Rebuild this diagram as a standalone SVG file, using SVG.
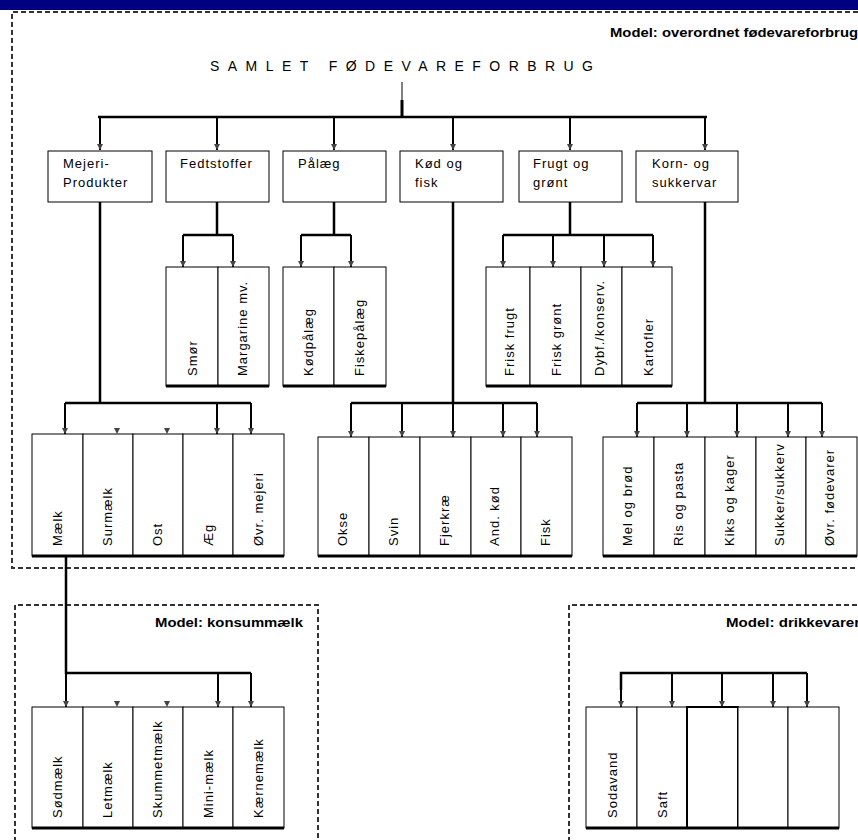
<svg xmlns="http://www.w3.org/2000/svg" xmlns:xlink="http://www.w3.org/1999/xlink" width="858" height="840" viewBox="0 0 858 840">
<defs>
<style>
.bg{fill:#ffffff}
.bar{fill:#000080}
.dash{fill:none;stroke:#333;stroke-width:2;stroke-dasharray:5,3}
.box{fill:#fff;stroke:#000;stroke-width:1}
.base{stroke:#000;stroke-width:3}
.t{font-family:"Liberation Sans",Arial,sans-serif;font-size:13px;fill:#000;letter-spacing:1px}
.r{font-family:"Liberation Sans",Arial,sans-serif;font-size:13px;fill:#000;letter-spacing:1px}
.title{font-family:"Liberation Sans",Arial,sans-serif;font-size:14px;fill:#000}
.model{font-family:"Liberation Sans",Arial,sans-serif;font-size:12px;font-weight:bold;fill:#000}
.c{fill:none;stroke:#000;stroke-width:2.5}
.d{fill:none;stroke:#000;stroke-width:2;marker-end:url(#arr)}
.ah{fill:#444}
</style>
<marker id="arr" markerUnits="userSpaceOnUse" markerWidth="7" markerHeight="7" refX="6" refY="3.5" orient="auto" viewBox="0 0 7 7">
<path d="M0,0.5 L6,3.5 L0,6.5 Z" fill="#444"/>
</marker>
<path id="ah" d="M-3,-6 L3,-6 L0,0 Z" class="ah"/>
</defs>
<rect class="bg" x="0" y="0" width="858" height="840"/>
<rect class="bar" x="0" y="0" width="858" height="10"/>
<path class="dash" d="M858,12 H12 V568 H858"/>
<path class="dash" d="M15,842 V605 H318 V842"/>
<path class="dash" d="M569,842 V605 H860"/>
<text class="model" x="858" y="37" text-anchor="end" textLength="248" lengthAdjust="spacingAndGlyphs">Model: overordnet fødevareforbrug</text>
<text class="model" x="303" y="627" text-anchor="end" textLength="148" lengthAdjust="spacingAndGlyphs">Model: konsummælk</text>
<text class="model" x="726" y="627" textLength="134" lengthAdjust="spacingAndGlyphs">Model: drikkevarer</text>
<g id="root">
<text class="title" x="210" y="71" textLength="383" lengthAdjust="spacing">SAMLET FØDEVAREFORBRUG</text>
</g>
<g id="connectors">
<line x1="402" y1="82" x2="402" y2="100" stroke="#000" stroke-width="1"/>
<line x1="402" y1="100" x2="402" y2="117" stroke="#000" stroke-width="3"/>
<path class="c" d="M98,117 H707"/>
<line class="d" x1="100" y1="117" x2="100" y2="150"/>
<line class="d" x1="217" y1="117" x2="217" y2="150"/>
<line class="d" x1="334" y1="117" x2="334" y2="150"/>
<line class="d" x1="453" y1="117" x2="453" y2="150"/>
<line class="d" x1="570" y1="117" x2="570" y2="150"/>
<line class="d" x1="705" y1="117" x2="705" y2="150"/>
<path class="c" d="M217,202 V235 M183,235 H233"/>
<line class="d" x1="183" y1="235" x2="183" y2="267"/>
<line class="d" x1="233" y1="235" x2="233" y2="267"/>
<path class="c" d="M334,202 V235 M301,235 H351"/>
<line class="d" x1="301" y1="235" x2="301" y2="267"/>
<line class="d" x1="351" y1="235" x2="351" y2="267"/>
<path class="c" d="M570,202 V235 M503,235 H653"/>
<line class="d" x1="503" y1="235" x2="503" y2="267"/>
<line class="d" x1="553" y1="235" x2="553" y2="267"/>
<line class="d" x1="604" y1="235" x2="604" y2="267"/>
<line class="d" x1="653" y1="235" x2="653" y2="267"/>
<path class="c" d="M100,202 V403 M65,403 H251"/>
<line class="d" x1="65" y1="403" x2="65" y2="434"/>
<line class="d" x1="217" y1="403" x2="217" y2="434"/>
<line class="d" x1="251" y1="403" x2="251" y2="434"/>
<use xlink:href="#ah" x="117" y="434"/>
<use xlink:href="#ah" x="167" y="434"/>
<path class="c" d="M453,202 V403 M351,403 H537"/>
<line class="d" x1="351" y1="403" x2="351" y2="437"/>
<line class="d" x1="402" y1="403" x2="402" y2="437"/>
<line class="d" x1="453" y1="403" x2="453" y2="437"/>
<line class="d" x1="503" y1="403" x2="503" y2="437"/>
<line class="d" x1="537" y1="403" x2="537" y2="437"/>
<path class="c" d="M705,202 V403 M637,403 H822"/>
<line class="d" x1="637" y1="403" x2="637" y2="437"/>
<line class="d" x1="687" y1="403" x2="687" y2="437"/>
<line class="d" x1="737" y1="403" x2="737" y2="437"/>
<line class="d" x1="788" y1="403" x2="788" y2="437"/>
<line class="d" x1="822" y1="403" x2="822" y2="437"/>
<path class="c" d="M66,556 V673 H251"/>
<line class="d" x1="66" y1="673" x2="66" y2="707"/>
<line class="d" x1="218" y1="673" x2="218" y2="707"/>
<line class="d" x1="251" y1="673" x2="251" y2="707"/>
<use xlink:href="#ah" x="117" y="707"/>
<use xlink:href="#ah" x="167" y="707"/>
<path class="c" d="M621,690 V673 H807"/>
<line class="d" x1="621" y1="673" x2="621" y2="707"/>
<line class="d" x1="672" y1="673" x2="672" y2="707"/>
<line class="d" x1="722" y1="673" x2="722" y2="707"/>
<line class="d" x1="773" y1="673" x2="773" y2="707"/>
<line class="d" x1="807" y1="673" x2="807" y2="707"/>
</g>
<g id="mejeri"><rect class="box" x="48" y="151" width="104" height="51"/><text class="t" x="63" y="168">Mejeri-</text><text class="t" x="63" y="187">Produkter</text></g>
<g id="fedtstoffer"><rect class="box" x="166" y="151" width="103" height="51"/><text class="t" x="180" y="168">Fedtstoffer</text></g>
<g id="paalaeg"><rect class="box" x="283" y="151" width="103" height="51"/><text class="t" x="298" y="168">Pålæg</text></g>
<g id="koed"><rect class="box" x="400" y="151" width="103" height="51"/><text class="t" x="415" y="168">Kød og</text><text class="t" x="415" y="187">fisk</text></g>
<g id="frugt"><rect class="box" x="519" y="151" width="103" height="51"/><text class="t" x="533" y="168">Frugt og</text><text class="t" x="533" y="187">grønt</text></g>
<g id="korn"><rect class="box" x="636" y="151" width="102" height="51"/><text class="t" x="652" y="168">Korn- og</text><text class="t" x="652" y="187">sukkervar</text></g>
<g id="smoer"><rect class="box" x="166" y="267" width="52" height="119"/><line class="base" x1="166" y1="386" x2="218" y2="386"/><text class="r" transform="translate(197,376) rotate(-90)">Smør</text></g>
<g id="margarine"><rect class="box" x="218" y="267" width="51" height="119"/><line class="base" x1="218" y1="386" x2="269" y2="386"/><text class="r" transform="translate(247,376) rotate(-90)">Margarine mv.</text></g>
<g id="koedpaalaeg"><rect class="box" x="283" y="267" width="51" height="119"/><line class="base" x1="283" y1="386" x2="334" y2="386"/><text class="r" transform="translate(313,376) rotate(-90)">Kødpålæg</text></g>
<g id="fiskepaalaeg"><rect class="box" x="334" y="267" width="52" height="119"/><line class="base" x1="334" y1="386" x2="386" y2="386"/><text class="r" transform="translate(364,376) rotate(-90)">Fiskepålæg</text></g>
<g id="friskfrugt"><rect class="box" x="486" y="267" width="44" height="119"/><line class="base" x1="486" y1="386" x2="530" y2="386"/><text class="r" transform="translate(514,376) rotate(-90)">Frisk frugt</text></g>
<g id="friskgroent"><rect class="box" x="530" y="267" width="51" height="119"/><line class="base" x1="530" y1="386" x2="581" y2="386"/><text class="r" transform="translate(561,376) rotate(-90)">Frisk grønt</text></g>
<g id="dybfrost"><rect class="box" x="581" y="267" width="41" height="119"/><line class="base" x1="581" y1="386" x2="622" y2="386"/><text class="r" transform="translate(604,376) rotate(-90)">Dybf./konserv.</text></g>
<g id="kartofler"><rect class="box" x="622" y="267" width="50" height="119"/><line class="base" x1="622" y1="386" x2="672" y2="386"/><text class="r" transform="translate(653,376) rotate(-90)">Kartofler</text></g>
<g id="maelk"><rect class="box" x="32" y="434" width="51" height="122"/><line class="base" x1="32" y1="556" x2="83" y2="556"/><text class="r" transform="translate(62,546) rotate(-90)">Mælk</text></g>
<g id="surmaelk"><rect class="box" x="83" y="434" width="50" height="122"/><line class="base" x1="83" y1="556" x2="133" y2="556"/><text class="r" transform="translate(112,546) rotate(-90)">Surmælk</text></g>
<g id="ost"><rect class="box" x="133" y="434" width="50" height="122"/><line class="base" x1="133" y1="556" x2="183" y2="556"/><text class="r" transform="translate(162,546) rotate(-90)">Ost</text></g>
<g id="aeg"><rect class="box" x="183" y="434" width="50" height="122"/><line class="base" x1="183" y1="556" x2="233" y2="556"/><text class="r" transform="translate(213,546) rotate(-90)">Æg</text></g>
<g id="oevrmejeri"><rect class="box" x="233" y="434" width="51" height="122"/><line class="base" x1="233" y1="556" x2="284" y2="556"/><text class="r" transform="translate(263,546) rotate(-90)">Øvr. mejeri</text></g>
<g id="okse"><rect class="box" x="318" y="437" width="51" height="119"/><line class="base" x1="318" y1="556" x2="369" y2="556"/><text class="r" transform="translate(347,546) rotate(-90)">Okse</text></g>
<g id="svin"><rect class="box" x="369" y="437" width="51" height="119"/><line class="base" x1="369" y1="556" x2="420" y2="556"/><text class="r" transform="translate(398,546) rotate(-90)">Svin</text></g>
<g id="fjerkrae"><rect class="box" x="420" y="437" width="51" height="119"/><line class="base" x1="420" y1="556" x2="471" y2="556"/><text class="r" transform="translate(449,546) rotate(-90)">Fjerkræ</text></g>
<g id="andkoed"><rect class="box" x="471" y="437" width="50" height="119"/><line class="base" x1="471" y1="556" x2="521" y2="556"/><text class="r" transform="translate(499,546) rotate(-90)">And. kød</text></g>
<g id="fisk"><rect class="box" x="521" y="437" width="51" height="119"/><line class="base" x1="521" y1="556" x2="572" y2="556"/><text class="r" transform="translate(550,546) rotate(-90)">Fisk</text></g>
<g id="melbroed"><rect class="box" x="603" y="437" width="51" height="119"/><line class="base" x1="603" y1="556" x2="654" y2="556"/><text class="r" transform="translate(632,546) rotate(-90)">Mel og brød</text></g>
<g id="rispasta"><rect class="box" x="654" y="437" width="51" height="119"/><line class="base" x1="654" y1="556" x2="705" y2="556"/><text class="r" transform="translate(683,546) rotate(-90)">Ris og pasta</text></g>
<g id="kikskager"><rect class="box" x="705" y="437" width="51" height="119"/><line class="base" x1="705" y1="556" x2="756" y2="556"/><text class="r" transform="translate(734,546) rotate(-90)">Kiks og kager</text></g>
<g id="sukker"><rect class="box" x="756" y="437" width="50" height="119"/><line class="base" x1="756" y1="556" x2="806" y2="556"/><text class="r" transform="translate(784,546) rotate(-90)">Sukker/sukkerv</text></g>
<g id="oevrfoedevarer"><rect class="box" x="806" y="437" width="51" height="119"/><line class="base" x1="806" y1="556" x2="857" y2="556"/><text class="r" transform="translate(834,546) rotate(-90)">Øvr. fødevarer</text></g>
<g id="soedmaelk"><rect class="box" x="32" y="707" width="51" height="121"/><line class="base" x1="32" y1="828" x2="83" y2="828"/><text class="r" transform="translate(62,818) rotate(-90)">Sødmælk</text></g>
<g id="letmaelk"><rect class="box" x="83" y="707" width="50" height="121"/><line class="base" x1="83" y1="828" x2="133" y2="828"/><text class="r" transform="translate(112,818) rotate(-90)">Letmælk</text></g>
<g id="skummetmaelk"><rect class="box" x="133" y="707" width="50" height="121"/><line class="base" x1="133" y1="828" x2="183" y2="828"/><text class="r" transform="translate(162,818) rotate(-90)">Skummetmælk</text></g>
<g id="minimaelk"><rect class="box" x="183" y="707" width="50" height="121"/><line class="base" x1="183" y1="828" x2="233" y2="828"/><text class="r" transform="translate(213,818) rotate(-90)">Mini-mælk</text></g>
<g id="kaernemaelk"><rect class="box" x="233" y="707" width="51" height="121"/><line class="base" x1="233" y1="828" x2="284" y2="828"/><text class="r" transform="translate(263,818) rotate(-90)">Kærnemælk</text></g>
<g id="sodavand"><rect class="box" x="586" y="707" width="51" height="121"/><line class="base" x1="586" y1="828" x2="637" y2="828"/><text class="r" transform="translate(617,818) rotate(-90)">Sodavand</text></g>
<g id="saft"><rect class="box" x="637" y="707" width="50" height="121"/><line class="base" x1="637" y1="828" x2="687" y2="828"/><text class="r" transform="translate(667,818) rotate(-90)">Saft</text></g>
<g id="drik3"><rect class="box" x="687" y="707" width="51" height="121" style="stroke-width:2"/><line class="base" x1="687" y1="828" x2="738" y2="828"/></g>
<g id="drik4"><rect class="box" x="738" y="707" width="50" height="121"/><line class="base" x1="738" y1="828" x2="788" y2="828"/></g>
<g id="drik5"><rect class="box" x="788" y="707" width="51" height="121"/><line class="base" x1="788" y1="828" x2="839" y2="828"/></g>
</svg>
